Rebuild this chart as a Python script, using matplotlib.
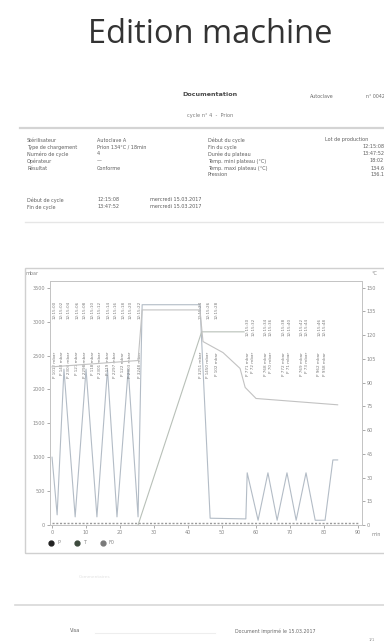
import matplotlib
matplotlib.use("Agg")
import matplotlib.pyplot as plt
from matplotlib.lines import Line2D
from matplotlib.patches import Rectangle
import matplotlib.transforms as mtransforms

# ---------------- data ----------------
title = "Edition machine"

pressure_t = [0.0, 1.5, 3.5, 6.8, 10.0, 13.2, 16.3, 19.1, 22.4, 25.3, 26.5, 43.5, 46.5,
              57.0, 57.4, 60.6, 63.5, 66.2, 69.1, 71.8, 74.7, 77.4, 80.3, 82.6, 84.0]
pressure_v = [1000, 150, 2300, 120, 2300, 120, 2300, 120, 2300, 120, 3250, 3250, 100,
              90, 770, 70, 770, 70, 770, 70, 770, 70, 70, 960, 960]

temp_t = [0.0, 25.3, 26.5, 43.5, 44.4, 50.3, 55.3, 56.8, 60.0, 84.0]
temp_v = [100, 104, 136, 136, 116, 109, 99, 87, 80, 76]

f0_t = [25.3, 44.0, 56.5]
f0_v = [0, 2850, 2850]

status_t = [0.0, 90.0]
status_v = [35, 35]

series_labels = ["P", "T", "F0"]

x_ticks = [0, 10, 20, 30, 40, 50, 60, 70, 80, 90]
p_ticks = [0, 500, 1000, 1500, 2000, 2500, 3000, 3500]
t_ticks = [0, 15, 30, 45, 60, 75, 90, 105, 120, 135, 150]

event_t = [0.8, 2.8, 5.0, 7.4, 9.6, 12.0, 14.0, 16.5, 18.6, 21.0, 23.0, 25.8,
           43.8, 46.0, 48.5, 57.6, 59.2, 62.8, 64.4, 68.2, 69.8, 73.4, 75.0, 78.6, 80.2]
event_time_txt = ["12:15:%02d" % (i * 2) for i in range(len(event_t))]
event_val_txt = ["P %d mbar" % v for v in
                 [1012, 148, 2304, 121, 2298, 118, 2301, 119, 2297, 122, 2303, 3248,
                  3251, 1450, 102, 771, 72, 768, 70, 772, 71, 769, 73, 962, 958]]

doc_left_labels = ["Stérilisateur", "Type de chargement", "Numéro de cycle", "Opérateur", "Résultat"]
doc_left_values = ["Autoclave A", "Prion 134°C / 18min", "4", "—", "Conforme"]
doc_mid_labels = ["Début du cycle", "Fin du cycle", "Durée du plateau",
                  "Temp. mini plateau (°C)", "Temp. maxi plateau (°C)", "Pression"]
doc_right_values = ["Lot de production", "12:15:08", "13:47:52", "18:02", "134.6", "136.1"]
doc_rows2_a = ["Début de cycle", "Fin de cycle"]
doc_rows2_b = ["12:15:08", "13:47:52"]
doc_rows2_c = ["mercredi 15.03.2017", "mercredi 15.03.2017"]

# ---------------- figure ----------------
W, H = 384, 644
fig = plt.figure(figsize=(W / 100, H / 100), dpi=100)
fig.patch.set_facecolor("white")


def px(x, y):
    return x / W, 1 - y / H


def ftext(x, y, s, **kw):
    fig.text(*px(x, y), s, **kw)


def hline(y, x0, x1, color="#cccccc", lw=1.2):
    fig.add_artist(Line2D([x0 / W, x1 / W], [1 - y / H, 1 - y / H],
                          transform=fig.transFigure, color=color, lw=lw))


DOC = "#5e5e5e"
FS = 3.5

# title
ftext(210, 43, title, ha="center", va="baseline", fontsize=23.5, color="#333333",
      family="Open Sans")

# document header
ftext(210, 95, "Documentation", ha="center", va="center", fontsize=4.6,
      color="#4a4a4a", fontweight="bold")
ftext(210, 115, "cycle n° 4  -  Prion", ha="center", va="center", fontsize=3.6, color="#7a7a7a")
ftext(310, 96, "Autoclave", ha="left", va="center", fontsize=3.4, color="#6a6a6a")
ftext(366, 96, "n° 0042", ha="left", va="center", fontsize=3.4, color="#6a6a6a")
hline(128, 20, 384, color="#d4d4d4", lw=1.6)

rows = [140, 147, 154, 161, 168, 175]
for i, (lab, val) in enumerate(zip(doc_left_labels, doc_left_values)):
    ftext(27, rows[i], lab, ha="left", va="center", fontsize=FS, color=DOC)
    ftext(97, rows[i], val, ha="left", va="center", fontsize=FS, color=DOC)
for i, lab in enumerate(doc_mid_labels):
    ftext(208, rows[i], lab, ha="left", va="center", fontsize=FS, color=DOC)
for i, val in enumerate(doc_right_values):
    ftext(384 if i else 325, rows[i], val, ha="right" if i else "left", va="center",
          fontsize=FS, color=DOC)
for i in range(2):
    ftext(27, 200 + 7 * i, doc_rows2_a[i], ha="left", va="center", fontsize=FS, color=DOC)
    ftext(97, 200 + 7 * i, doc_rows2_b[i], ha="left", va="center", fontsize=FS, color=DOC)
    ftext(150, 200 + 7 * i, doc_rows2_c[i], ha="left", va="center", fontsize=FS, color=DOC)
hline(222, 25, 384, color="#e6e6e6", lw=1.0)

# chart frame
fig.add_artist(Rectangle((25 / W, 1 - 553 / H), (390 - 25) / W, (553 - 268) / H,
                         transform=fig.transFigure, fill=False, edgecolor="#d0d0d0", lw=1.0))

# axes
ax = fig.add_axes([50 / W, 1 - 525 / H, (362 - 50) / W, (525 - 281) / H])
x0 = -0.6
x1 = x0 + (362 - 50) / 3.4
ax.set_xlim(x0, x1)
ax.set_ylim(0, 3600)
ax2 = ax.twinx()
ax2.set_ylim(0, 150 * 3600 / 3500)

ax.plot(pressure_t, pressure_v, color="#b3bcc6", lw=0.8)
ax2.plot(temp_t, temp_v, color="#c2c2c2", lw=0.8)
ax.plot(f0_t, f0_v, color="#b8c0b8", lw=0.8)
ax.plot(status_t, status_v, color="#9a9a9a", lw=1.0, ls=(0, (1.5, 1.2)))

for a in (ax, ax2):
    for s in a.spines.values():
        s.set_color("#c4c4c4")
        s.set_linewidth(0.7)
    a.tick_params(labelsize=3.5, colors="#888888", length=2, width=0.5, pad=1.5)
ax.set_xticks(x_ticks)
ax.set_yticks(p_ticks)
ax2.set_yticks(t_ticks)

ax.text(-0.035, 1.03, "mbar", transform=ax.transAxes, ha="right", va="center",
        fontsize=3.5, color="#888888")
ax.text(1.03, 1.03, "°C", transform=ax.transAxes, ha="left", va="center",
        fontsize=3.5, color="#888888")
ax.text(1.03, -0.04, "min", transform=ax.transAxes, ha="left", va="center",
        fontsize=3.5, color="#888888")

# event annotations (rotated)
trans = mtransforms.blended_transform_factory(ax.transData, ax.transAxes)
for t, s1, s2 in zip(event_t, event_time_txt, event_val_txt):
    upper = 0.92 if t < 50 else 0.85
    ax.text(t, upper, s1, transform=trans, rotation=90, ha="center", va="top",
            fontsize=3.0, color="#7a7a7a")
    ax.text(t, 0.71, s2, transform=trans, rotation=90, ha="center", va="top",
            fontsize=3.0, color="#7a7a7a")

# legend
handles = [Line2D([], [], marker="o", ls="none", color=c, markersize=3.5)
           for c in ["#222222", "#3d4a3d", "#7a7a7a"]]
fig.legend(handles, series_labels, loc="center left", bbox_to_anchor=px(42, 543),
           ncol=3, frameon=False, fontsize=3.5, handletextpad=0.2, columnspacing=2.5,
           labelcolor="#888888")

# footer
ftext(95, 577, "Commentaires", ha="center", va="center", fontsize=3.2, color="#e2e2e2")
hline(605, 15, 384, color="#d8d8d8", lw=1.2)
ftext(75, 631, "Visa", ha="center", va="center", fontsize=3.6, color="#666666")
hline(633, 95, 215, color="#eeeeee", lw=0.8)
ftext(235, 631, "Document imprimé le 15.03.2017", ha="left", va="center",
      fontsize=3.4, color="#6a6a6a")
ftext(372, 640, "1/1", ha="center", va="center", fontsize=3.0, color="#999999")

fig.savefig("out.png", dpi=100)
